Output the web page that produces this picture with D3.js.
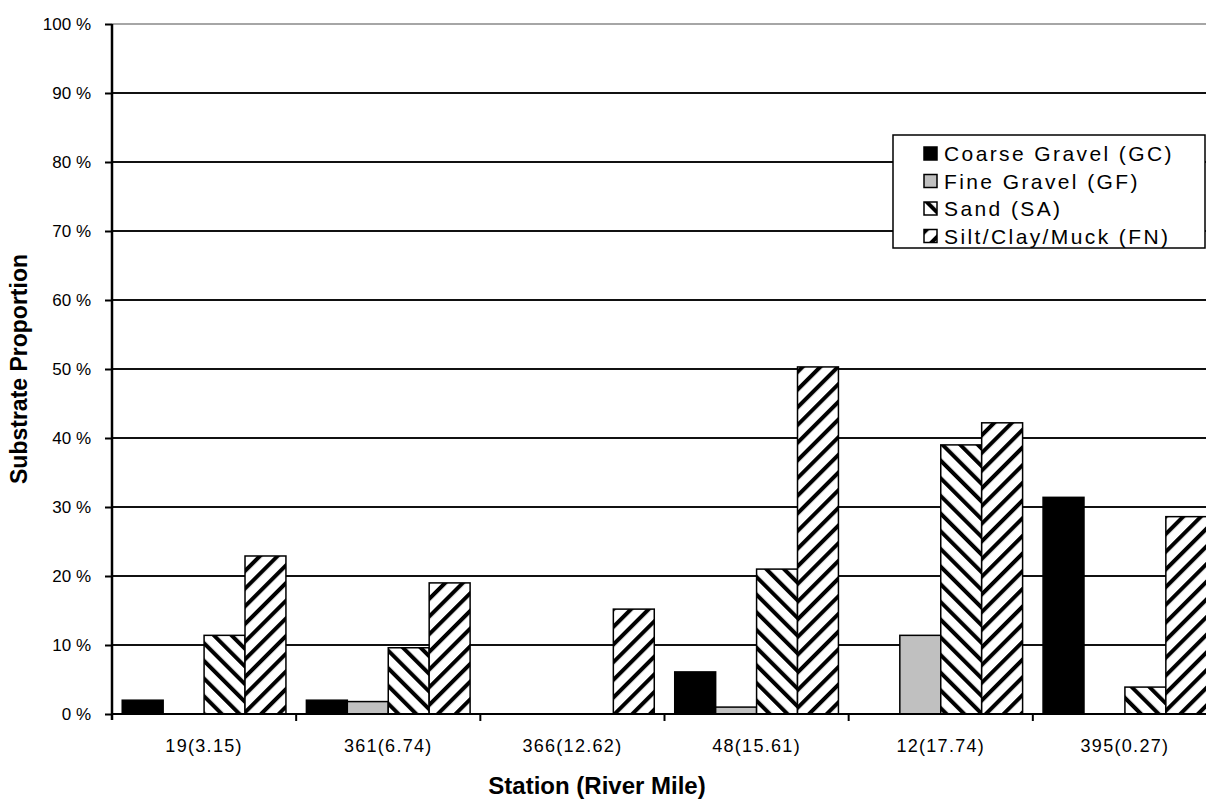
<html>
<head>
	<script src="https://d3js.org/d3.v7.min.js"></script>
	<style>
		body { margin: 0; background: #fff; }
		text { font-family: Arial, "Liberation Sans", sans-serif; }
	</style>
</head>
<body>
	<svg></svg>
</body>
<script type="text/javascript">
	// stations and substrate proportions (%)
	var stations = ["19(3.15)", "361(6.74)", "366(12.62)", "48(15.61)", "12(17.74)", "395(0.27)"];
	var seriesNames = ["Coarse Gravel (GC)", "Fine Gravel (GF)", "Sand (SA)", "Silt/Clay/Muck (FN)"];
	var coarseGravel = [2.0, 2.0, 0, 6.1, 0, 31.4];
	var fineGravel = [0, 1.8, 0, 1.0, 11.4, 0];
	var sand = [11.4, 9.6, 0, 21.0, 39.0, 3.9];
	var siltClayMuck = [22.9, 19.0, 15.2, 50.3, 42.2, 28.6];
	var yTicks = [0, 10, 20, 30, 40, 50, 60, 70, 80, 90, 100];

	var seriesValues = [coarseGravel, fineGravel, sand, siltClayMuck];
	var fills = ["#000", "#c0c0c0", "url(#sandHatch)", "url(#fnHatch)"];

	var width = 1206, height = 800;
	var margin = {"left":112, "top":24, "bottom":86};
	var plotRight = 1217;

	var svg = d3.select("svg")
		.attr("width", width)
		.attr("height", height);

	// hatch patterns, user space so stripes run on across neighbouring bars
	var defs = svg.append("defs");
	function hatch(id, angle) {
		var p = defs.append("pattern")
			.attr("id", id)
			.attr("patternUnits", "userSpaceOnUse")
			.attr("width", 12.5)
			.attr("height", 12.5)
			.attr("patternTransform", "rotate(" + angle + ")");
		p.append("rect").attr("width", 12.5).attr("height", 12.5).attr("fill", "#fff");
		p.append("rect").attr("width", 4).attr("height", 12.5).attr("fill", "#000");
	}
	hatch("sandHatch", -45);
	hatch("fnHatch", 45);

	var x = d3.scaleBand()
		.domain(stations)
		.range([margin.left, plotRight]);
	var x1 = d3.scaleBand()
		.domain(seriesNames)
		.range([0, x.bandwidth()])
		.paddingOuter(0.25);
	var y = d3.scaleLinear()
		.domain([0, 100])
		.range([height - margin.bottom, margin.top]);

	// gridlines
	svg.append("g")
		.selectAll("line")
		.data(yTicks.filter(function(d){ return d > 0; }))
		.enter().append("line")
		.attr("x1", margin.left)
		.attr("x2", width)
		.attr("y1", function(d){ return y(d); })
		.attr("y2", function(d){ return y(d); })
		.attr("stroke", function(d){ return d == 100 ? "#888" : "#111"; })
		.attr("stroke-width", function(d){ return d == 100 ? 1.5 : 2; });

	// bars
	var table = [];
	stations.forEach(function(s, i){
		seriesNames.forEach(function(n, j){
			table.push({"station":s, "series":n, "value":seriesValues[j][i], "fill":fills[j]});
		});
	});
	svg.append("g")
		.selectAll("rect")
		.data(table.filter(function(d){ return d.value > 0; }))
		.enter().append("rect")
		.attr("x", function(d){ return x(d.station) + x1(d.series); })
		.attr("width", x1.bandwidth())
		.attr("y", function(d){ return y(d.value); })
		.attr("height", function(d){ return y(0) - y(d.value); })
		.attr("fill", function(d){ return d.fill; })
		.attr("stroke", "#000")
		.attr("stroke-width", 1.5);

	// y axis
	var yAxis = svg.append("g")
		.attr("transform", "translate(" + margin.left + ",0)")
		.call(d3.axisLeft(y).tickValues(yTicks).tickSize(7).tickPadding(14)
			.tickFormat(function(d){ return d + " %"; }));
	yAxis.select(".domain").attr("stroke-width", 2.5).attr("d", "M0," + y(100) + "V" + (y(0) + 6));
	yAxis.selectAll(".tick line").attr("stroke-width", 2);
	yAxis.selectAll(".tick text").attr("font-size", 17).attr("font-family", "Arial, 'Liberation Sans', sans-serif");

	// x axis
	var xAxis = svg.append("g")
		.attr("transform", "translate(0," + y(0) + ")")
		.call(d3.axisBottom(x).tickSize(0).tickPadding(25));
	xAxis.select(".domain").attr("stroke-width", 2).attr("d", "M" + margin.left + ",0H" + width);
	xAxis.selectAll(".tick text").attr("font-size", 18).attr("letter-spacing", 1.3)
		.attr("font-family", "Arial, 'Liberation Sans', sans-serif");
	xAxis.selectAll(".bound")
		.data(stations.slice(1))
		.enter().append("line")
		.attr("x1", function(d){ return x(d); })
		.attr("x2", function(d){ return x(d); })
		.attr("y1", 0)
		.attr("y2", 7)
		.attr("stroke", "#000")
		.attr("stroke-width", 2);

	// axis titles
	svg.append("text")
		.attr("transform", "translate(27,369) rotate(-90)")
		.attr("text-anchor", "middle")
		.attr("font-size", 23)
		.attr("font-weight", "bold")
		.text("Substrate Proportion");
	svg.append("text")
		.attr("x", 597)
		.attr("y", 794)
		.attr("text-anchor", "middle")
		.attr("font-size", 24)
		.attr("font-weight", "bold")
		.text("Station (River Mile)");

	// legend
	var legend = svg.append("g").attr("transform", "translate(893,135)");
	legend.append("rect")
		.attr("width", 312)
		.attr("height", 113)
		.attr("fill", "#fff")
		.attr("stroke", "#000")
		.attr("stroke-width", 1.5);
	var item = legend.selectAll(".item")
		.data(seriesNames)
		.enter().append("g")
		.attr("transform", function(d, i){ return "translate(31," + (12 + i * 27.5) + ")"; });
	item.append("rect")
		.attr("width", 13)
		.attr("height", 13)
		.attr("fill", function(d, i){ return fills[i]; })
		.attr("stroke", "#000")
		.attr("stroke-width", 1.5);
	item.append("text")
		.attr("x", 20)
		.attr("y", 14)
		.attr("font-size", 21)
		.attr("letter-spacing", 2.4)
		.text(function(d){ return d; });
</script>
</html>
